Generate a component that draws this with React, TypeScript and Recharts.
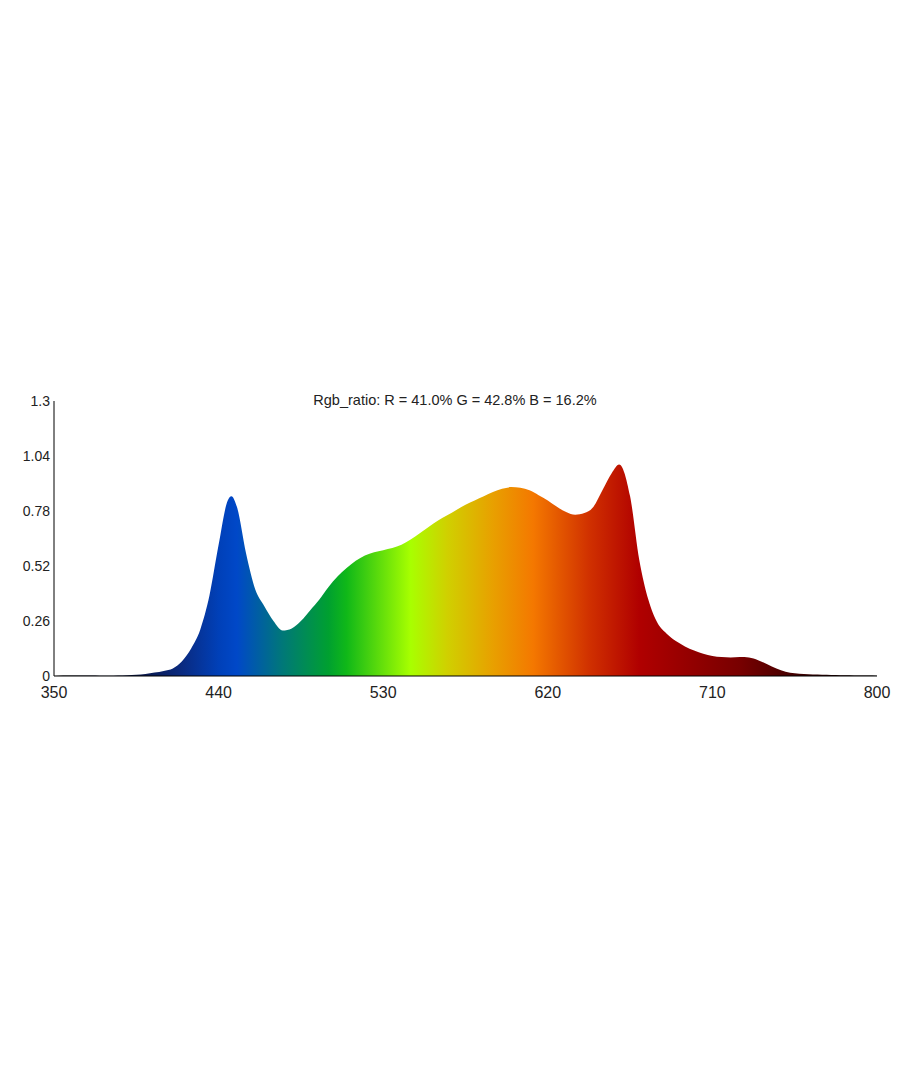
import { AreaChart, Area, XAxis, YAxis } from 'recharts';

const title = 'Rgb_ratio: R = 41.0% G = 42.8% B = 16.2%';

const wavelengths = [
  350, 355, 360, 365, 370, 375, 380, 385, 390, 395, 400, 405, 410, 415, 420, 425, 430, 435, 440, 445,
  447, 450, 455, 460, 465, 470, 475, 480, 485, 490, 495, 500, 505, 510, 515, 520, 525, 530, 535, 540,
  545, 550, 555, 560, 565, 570, 575, 580, 585, 590, 595, 600, 605, 610, 615, 620, 625, 630, 635, 640,
  645, 650, 655, 659, 665, 670, 675, 680, 685, 690, 695, 700, 705, 710, 715, 720, 725, 730, 735, 740,
  745, 750, 755, 760, 765, 770, 775, 780, 785, 790, 795, 800,
];

const intensity = [
  0, 0.002, 0.002, 0.002, 0.002, 0.001, 0.001, 0.002, 0.004, 0.006, 0.01, 0.016, 0.024, 0.036, 0.07, 0.13, 0.22, 0.38, 0.62, 0.83,
  0.85, 0.8, 0.58, 0.41, 0.33, 0.26, 0.215, 0.225, 0.26, 0.31, 0.36, 0.42, 0.47, 0.51, 0.545, 0.57, 0.585, 0.595, 0.605, 0.62,
  0.645, 0.675, 0.705, 0.735, 0.76, 0.785, 0.81, 0.83, 0.85, 0.87, 0.885, 0.893, 0.89, 0.878, 0.855, 0.83, 0.8, 0.775, 0.762, 0.77,
  0.8, 0.88, 0.96, 1.0, 0.85, 0.55, 0.36, 0.25, 0.2, 0.165, 0.14, 0.12, 0.105, 0.095, 0.09, 0.088, 0.09, 0.088, 0.075, 0.055,
  0.035, 0.02, 0.013, 0.009, 0.007, 0.006, 0.005, 0.004, 0.003, 0.002, 0.002, 0.001,
];

const xTicks = [350, 440, 530, 620, 710, 800];
const yTicks = [0, 0.26, 0.52, 0.78, 1.04, 1.3];

// spectrum colour stops, by wavelength
const stopWl = [350, 400, 420, 440, 450, 475, 500, 510, 545, 565, 590, 612, 643, 670, 725, 760, 800];
const stopColor = [
  '#000000', '#0a1a50', '#0a2a80', '#0040b8', '#0048c8', '#007878', '#00a030', '#10b818', '#a8ff00',
  '#d0d000', '#e8a000', '#f47800', '#d03000', '#b00000', '#780000', '#3a0000', '#000000',
];

const data = wavelengths.map((wl, i) => ({ wl, v: intensity[i] }));

const font = 'Arial, "Liberation Sans", sans-serif';

export default function App() {
  return (
    <div style={{ paddingTop: 372, position: 'relative' }}>
      <div
        style={{
          position: 'absolute',
          top: 384,
          left: 0,
          width: 894,
          textAlign: 'center',
          fontFamily: font,
          fontSize: 14.5,
          lineHeight: '16px',
          color: '#222',
        }}
      >
        {title}
      </div>
      <AreaChart width={900} height={340} data={data} margin={{ top: 21, right: 31, left: 6, bottom: 14 }}>
        <defs>
          <linearGradient id="spectrum" x1="0" y1="0" x2="1" y2="0">
            {stopWl.map((wl, i) => (
              <stop key={wl} offset={(wl - 350) / 450} stopColor={stopColor[i]} />
            ))}
          </linearGradient>
        </defs>
        <XAxis
          dataKey="wl"
          type="number"
          domain={[350, 800]}
          ticks={xTicks}
          tickLine={false}
          tickSize={4}
          tickMargin={7}
          height={30}
          stroke="#000"
          tick={{ fontFamily: font, fontSize: 16, fill: '#222' }}
          interval={0}
        />
        <YAxis
          type="number"
          domain={[0, 1.3]}
          ticks={yTicks}
          tickLine={false}
          tickSize={4}
          tickMargin={0}
          width={40}
          stroke="#000"
          tick={{ fontFamily: font, fontSize: 14, fill: '#222' }}
          interval={0}
        />
        <Area
          type="monotone"
          dataKey="v"
          stroke="none"
          fill="url(#spectrum)"
          fillOpacity={1}
          isAnimationActive={false}
          dot={false}
          activeDot={false}
        />
      </AreaChart>
    </div>
  );
}
